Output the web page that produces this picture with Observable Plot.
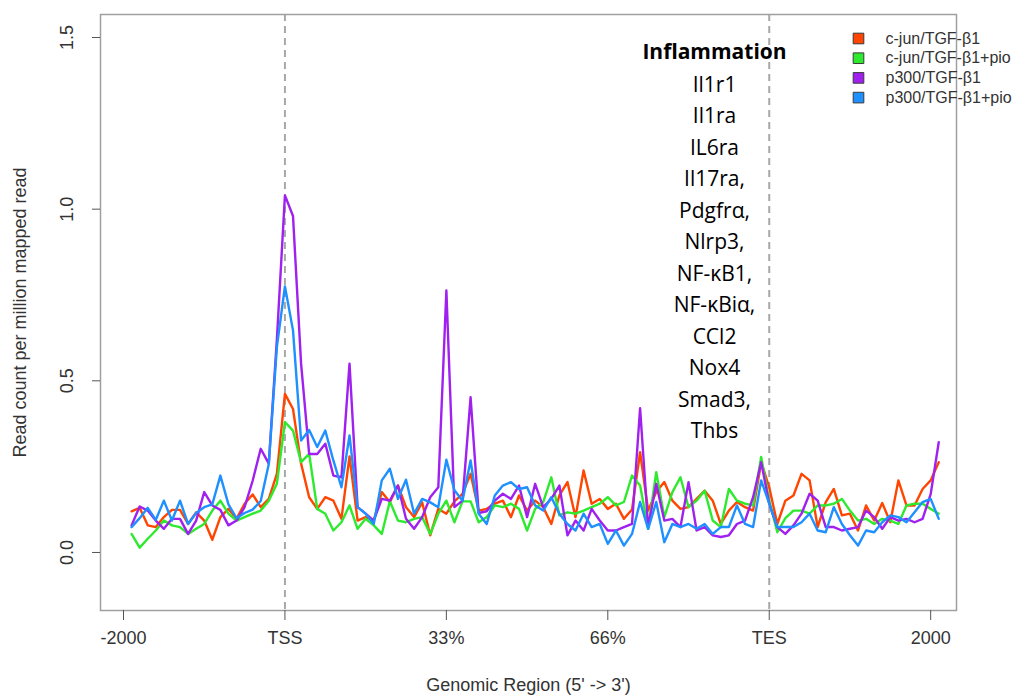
<!DOCTYPE html>
<html><head><meta charset="utf-8">
<script src="https://cdn.jsdelivr.net/npm/d3@7"></script>
<script src="https://cdn.jsdelivr.net/npm/@observablehq/plot@0.6"></script>
<style>body{margin:0;background:#fff}</style>
</head><body><div id="chart"></div>
<script>
const seriesNames = ["c-jun/TGF-β1", "c-jun/TGF-β1+pio", "p300/TGF-β1", "p300/TGF-β1+pio"];
const seriesColors = ["#FF4500", "#2EEA2E", "#A020F0", "#1E90FF"];

const cjun = [0.120,0.130,0.079,0.074,0.103,0.124,0.124,0.083,0.117,0.093,0.037,0.103,0.127,0.098,0.142,0.169,0.132,0.156,0.229,
0.462,0.418,0.259,0.161,0.127,0.161,0.151,0.098,0.280,0.093,0.103,0.093,0.176,0.146,0.195,0.132,0.103,0.146,0.050,0.127,0.113,0.149,0.171,0.229,
0.122,0.127,0.142,0.151,0.103,0.166,0.122,0.151,0.132,0.083,0.166,0.205,0.103,0.239,0.142,0.156,0.127,0.142,0.098,0.125,
0.292,0.122,0.176,0.205,0.151,0.127,0.132,0.156,0.180,0.151,0.083,0.122,0.147,0.132,0.122,0.263,0.190,0.083,0.151,
0.166,0.229,0.210,0.074,0.147,0.185,0.108,0.113,0.064,0.137,0.093,0.144,0.088,0.210,0.137,0.137,0.185,0.210,0.263];

const cjunPio = [0.054,0.014,0.040,0.064,0.093,0.079,0.074,0.054,0.069,0.083,0.122,0.151,0.113,0.093,0.103,0.113,0.122,0.151,0.200,
0.380,0.355,0.263,0.287,0.127,0.113,0.064,0.088,0.137,0.069,0.098,0.079,0.054,0.149,0.093,0.088,0.098,0.103,0.054,0.113,0.151,0.088,0.149,0.149,
0.088,0.103,0.137,0.132,0.142,0.127,0.064,0.127,0.147,0.219,0.108,0.117,0.113,0.122,0.132,0.142,0.161,0.137,0.147,0.224,
0.195,0.069,0.234,0.103,0.176,0.219,0.132,0.151,0.180,0.093,0.074,0.185,0.151,0.142,0.137,0.278,0.151,0.059,0.100,
0.122,0.122,0.113,0.137,0.137,0.142,0.156,0.122,0.093,0.098,0.083,0.098,0.093,0.083,0.137,0.142,0.142,0.127,0.113];

const p300 = [0.079,0.134,0.122,0.093,0.069,0.098,0.098,0.054,0.093,0.176,0.137,0.124,0.079,0.093,0.132,0.209,0.302,0.259,0.620,
1.040,0.980,0.550,0.287,0.287,0.317,0.224,0.219,0.550,0.132,0.113,0.093,0.156,0.151,0.195,0.098,0.069,0.103,0.161,0.190,0.763,0.132,0.151,0.452,
0.115,0.120,0.151,0.171,0.156,0.195,0.103,0.200,0.132,0.156,0.195,0.050,0.093,0.064,0.127,0.093,0.064,0.064,0.074,0.083,
0.420,0.074,0.200,0.093,0.098,0.074,0.205,0.064,0.074,0.050,0.045,0.050,0.083,0.093,0.161,0.263,0.142,0.074,0.054,
0.079,0.113,0.171,0.151,0.074,0.074,0.064,0.069,0.074,0.122,0.103,0.069,0.103,0.093,0.098,0.088,0.098,0.170,0.321];

const p300Pio = [0.074,0.100,0.130,0.095,0.151,0.093,0.151,0.083,0.115,0.132,0.140,0.224,0.140,0.100,0.115,0.125,0.150,0.258,0.598,
0.775,0.647,0.326,0.357,0.307,0.355,0.268,0.190,0.341,0.132,0.113,0.083,0.210,0.244,0.156,0.212,0.113,0.156,0.146,0.132,0.270,0.181,0.151,0.268,
0.113,0.083,0.166,0.195,0.205,0.185,0.190,0.137,0.122,0.161,0.113,0.083,0.064,0.113,0.074,0.083,0.025,0.064,0.020,0.054,
0.147,0.069,0.147,0.030,0.083,0.074,0.083,0.069,0.083,0.054,0.074,0.074,0.137,0.083,0.074,0.210,0.142,0.074,0.074,
0.074,0.088,0.113,0.064,0.059,0.132,0.083,0.050,0.020,0.064,0.059,0.088,0.108,0.103,0.088,0.117,0.147,0.156,0.098];

const xTickPositions = [0, 20, 40, 60, 80, 100];
const xTickLabels = ["-2000", "TSS", "33%", "66%", "TES", "2000"];
const boundaryPositions = [20, 80];
const yTicks = [0, 0.5, 1.0, 1.5];
const annotationTitle = "Inflammation";
const annotationGenes = ["Il1r1", "Il1ra", "IL6ra", "Il17ra,", "Pdgfrα,", "Nlrp3,", "NF-κB1,", "NF-κBiα,", "CCl2", "Nox4", "Smad3,", "Thbs"];

const rows = [];
[cjun, cjunPio, p300, p300Pio].forEach((arr, s) =>
  arr.forEach((v, i) => rows.push({series: seriesNames[s], pos: i + 1, value: v})));

const axisFont = "'Liberation Sans', Arial, sans-serif";
const annFont = "'Open Sans', 'Noto Sans', sans-serif";

const legendMarks = [];
seriesNames.forEach((name, i) => {
  legendMarks.push(Plot.dot([name], {frameAnchor: "top-left", dx: 758, dy: 24 + i * 19.7, symbol: "square", r: 6,
    fill: seriesColors[i], stroke: "#3a3a3a", strokeWidth: 1}));
  legendMarks.push(Plot.text([name], {frameAnchor: "top-left", dx: 785, dy: 24 + i * 19.7, textAnchor: "start",
    lineAnchor: "middle", fontSize: 16, fill: "#333", fontFamily: axisFont}));
});

const chart = Plot.plot({
  width: 1034, height: 700,
  marginLeft: 100, marginRight: 78, marginTop: 14, marginBottom: 90,
  x: {domain: [-2.85, 103.2]},
  y: {domain: [-0.169, 1.567]},
  color: {domain: seriesNames, range: seriesColors},
  style: {fontFamily: axisFont, background: "#fff"},
  marks: [
    Plot.ruleX(boundaryPositions, {stroke: "#a8a8a8", strokeWidth: 2, strokeDasharray: "7,5"}),
    Plot.lineY(rows, {x: "pos", y: "value", stroke: "series", strokeWidth: 2.4, strokeLinejoin: "round"}),
    Plot.frame({stroke: "#a0a0a0", strokeWidth: 1.5}),
    Plot.axisX({ticks: xTickPositions, tickFormat: d => xTickLabels[xTickPositions.indexOf(d)], tickSize: 10,
      tickPadding: 11, fontSize: 18, label: null, stroke: "#555", fill: "#333"}),
    Plot.axisY({ticks: yTicks, tickSize: 8, tickFormat: () => "", label: null, stroke: "#555"}),
    Plot.text(yTicks, {y: d => d, text: d => d3.format(".1f")(d), frameAnchor: "left", dx: -33, rotate: -90,
      textAnchor: "middle", fontSize: 18, fill: "#333"}),
    Plot.text(["Read count per million mapped read"], {frameAnchor: "left", dx: -80, rotate: -90,
      textAnchor: "middle", fontSize: 18, fill: "#333"}),
    Plot.text(["Genomic Region (5' -> 3')"], {frameAnchor: "bottom", dy: 80, fontSize: 18, fill: "#333"}),
    Plot.text([annotationTitle], {frameAnchor: "top-left", dx: 614, dy: 38, lineAnchor: "middle", textAnchor: "middle",
      fontSize: 21, fontWeight: "bold", fill: "#000", fontFamily: annFont}),
    Plot.text([annotationGenes.join("\n")], {frameAnchor: "top-left", dx: 614, dy: 55, lineAnchor: "top", textAnchor: "middle",
      lineHeight: 1.5, fontSize: 21, fill: "#000", fontFamily: annFont}),
    ...legendMarks
  ]
});
document.getElementById("chart").appendChild(chart);
</script>
</body></html>
